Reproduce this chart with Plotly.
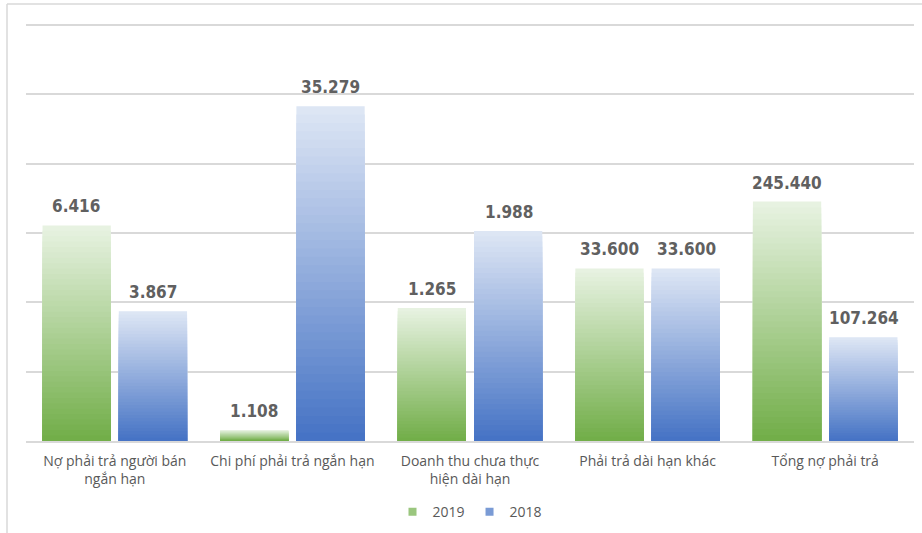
import plotly.graph_objects as go

categories = ["Nợ phải trả người bán<br>ngắn hạn", "Chi phí phải trả ngắn hạn",
              "Doanh thu chưa thực<br>hiện dài hạn", "Phải trả dài hạn khác", "Tổng nợ phải trả"]
# bar heights as drawn (chart's own unscaled axis, gridline units)
heights_2019 = [3.11, 0.155, 1.92, 2.49, 3.455]
heights_2018 = [1.87, 4.83, 3.03, 2.49, 1.496]
labels_2019 = ["6.416", "1.108", "1.265", "33.600", "245.440"]
labels_2018 = ["3.867", "35.279", "1.988", "33.600", "107.264"]

series = [
    ("2019", heights_2019, labels_2019, (112, 173, 71), (233, 243, 227)),
    ("2018", heights_2018, labels_2018, (68, 114, 196), (223, 231, 245)),
]

N = 40
fig = go.Figure()

def mix(c0, c1, t):
    return "rgb(%d,%d,%d)" % tuple(round(a + (b - a) * t) for a, b in zip(c0, c1))

for name, h, lab, dark, light in series:
    for k in range(N):
        frac = (N - k) / N  # tallest first (lightest), shortest last (darkest)
        col = mix(dark, light, frac - 0.5 / N)
        fig.add_trace(go.Bar(
            x=categories, y=[v * frac for v in h],
            offsetgroup=name, name=name, legendgroup=name,
            marker=dict(color=col, line=dict(width=0)),
            showlegend=False, hoverinfo="skip",
        ))

# legend entries (small squares)
for name, h, lab, dark, light in series:
    fig.add_trace(go.Scatter(x=[None], y=[None], mode="markers", name=name,
                             marker=dict(symbol="square", size=8, color=mix(dark, light, 0.35)),
                             showlegend=True))

# value labels
for si, (name, h, lab, dark, light) in enumerate(series):
    shift = -38.5 if si == 0 else 38.5
    for c, v, t in zip(categories, h, lab):
        fig.add_annotation(x=c, y=v, text="<b>%s</b>" % t, showarrow=False,
                           xshift=shift, yshift=7, yanchor="bottom",
                           font=dict(family="DejaVu Sans Condensed", size=17, color="#606060"))

# partial chart frame (top and left)
fig.add_shape(type="line", xref="paper", yref="paper", x0=-0.0214, x1=1.2, y0=1.0456, y1=1.0456,
              line=dict(color="#d9d9d9", width=1.5))
fig.add_shape(type="line", xref="paper", yref="paper", x0=-0.0214, x1=-0.0214, y0=-0.4, y1=1.0456,
              line=dict(color="#d9d9d9", width=1.5))

fig.update_layout(
    width=922, height=533,
    margin=dict(l=26, r=8, t=23, b=91.5, autoexpand=False),
    paper_bgcolor="white", plot_bgcolor="white",
    barmode="group", bargap=0.141, bargroupgap=0.105,
    showlegend=True,
    legend=dict(orientation="h", x=0.5, xanchor="center", y=-0.17, yanchor="middle",
                font=dict(family="Open Sans", size=14, color="#595959"),
                itemwidth=30, traceorder="normal"),
    font=dict(family="Open Sans", color="#595959"),
)
fig.update_xaxes(showline=True, linecolor="#d9d9d9", linewidth=1.5, automargin=False,
                 tickfont=dict(family="Open Sans", size=14, color="#595959"),
                 ticks="", ticklabelstandoff=6, fixedrange=True)
fig.update_yaxes(range=[0, 6.03], dtick=1, showticklabels=False, showgrid=True, automargin=False,
                 gridcolor="#d9d9d9", gridwidth=1.5, zeroline=False, fixedrange=True)

fig.write_html("out.html")
